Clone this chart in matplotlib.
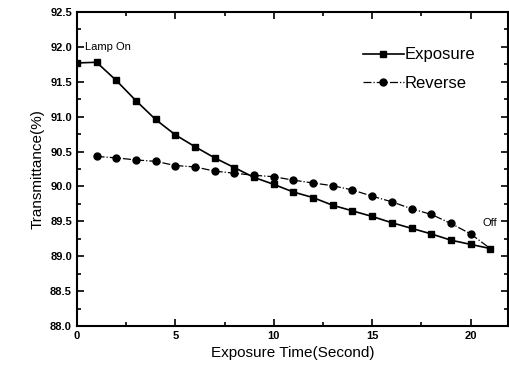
import matplotlib
matplotlib.use("Agg")
import matplotlib.pyplot as plt
from matplotlib.ticker import MultipleLocator

plt.rcParams['font.family'] = ['Liberation Sans', 'DejaVu Sans']

exp_t = list(range(0, 22))
exp_y = [91.77, 91.78, 91.52, 91.23, 90.96, 90.74, 90.57, 90.41, 90.27, 90.13,
         90.03, 89.92, 89.84, 89.73, 89.65, 89.57, 89.48, 89.40, 89.32, 89.23,
         89.17, 89.11]
rev_t = list(range(1, 21))
rev_y = [90.43, 90.41, 90.38, 90.36, 90.30, 90.28, 90.22, 90.19, 90.16, 90.14,
         90.09, 90.05, 90.01, 89.95, 89.86, 89.78, 89.68, 89.60, 89.47, 89.32]
rev_end_t = [20, 21]
rev_end_y = [89.32, 89.11]

fig = plt.figure(figsize=(5.09, 3.76), dpi=100)
ax = fig.add_axes([0.151, 0.133, 0.847, 0.835])

ax.plot(exp_t, exp_y, '-', color='black', lw=1.2, marker='s', ms=5, label='Exposure')
ax.plot(rev_t, rev_y, '-.', color='black', lw=0.9, marker='o', ms=5, label='Reverse')
ax.plot(rev_end_t, rev_end_y, '-.', color='black', lw=0.9)

ax.set_xlim(0, 21.9)
ax.set_ylim(88.0, 92.5)
ax.xaxis.set_major_locator(MultipleLocator(5))
ax.xaxis.set_minor_locator(MultipleLocator(2.5))
ax.yaxis.set_major_locator(MultipleLocator(0.5))
ax.yaxis.set_minor_locator(MultipleLocator(0.25))
ax.yaxis.set_major_formatter(matplotlib.ticker.FormatStrFormatter('%.1f'))
ax.tick_params(which='both', direction='in', top=True, right=True, width=1.2)
ax.tick_params(which='major', length=5, labelsize=8)
ax.tick_params(which='minor', length=3)
for s in ax.spines.values():
    s.set_linewidth(1.5)
for lab in ax.get_xticklabels() + ax.get_yticklabels():
    lab.set_fontweight('bold')

ax.set_xlabel('Exposure Time(Second)', fontsize=11)
ax.set_ylabel('Transmittance(%)', fontsize=11)

ax.text(0.4, 92.0, 'Lamp On', fontsize=8, va='center', ha='left')
ax.text(20.6, 89.48, 'Off', fontsize=8, va='center', ha='left')

leg = ax.legend(loc='upper right', bbox_to_anchor=(0.958, 0.935), frameon=False,
                fontsize=12, handlelength=2.5, handletextpad=0.0,
                labelspacing=0.8)

fig.savefig('out.png', dpi=100)
